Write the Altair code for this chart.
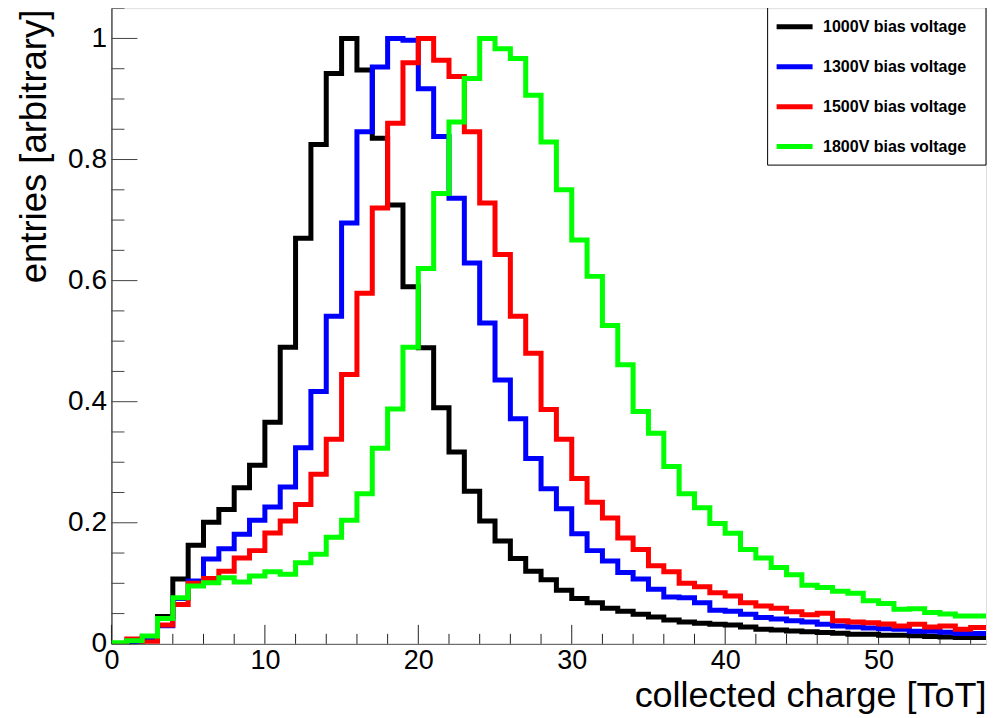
import altair as alt
import pandas as pd

# ---------------- data ----------------
x_max = 57
series_names = ["1000V bias voltage", "1300V bias voltage",
                "1500V bias voltage", "1800V bias voltage"]
series_colors = ["#000000", "#0000ff", "#ff0000", "#00ff00"]

v1000 = [0.0, 0.003, 0.01, 0.045, 0.107, 0.163, 0.201, 0.222, 0.258, 0.295,
         0.366, 0.49, 0.67, 0.825, 0.942, 1.0, 0.948, 0.835, 0.725, 0.59,
         0.489, 0.39, 0.317, 0.252, 0.203, 0.17, 0.141, 0.12, 0.106, 0.0885,
         0.075, 0.068, 0.059, 0.054, 0.049, 0.0445, 0.0395, 0.036, 0.034, 0.0325,
         0.031, 0.028, 0.024, 0.023, 0.0214, 0.020, 0.0187, 0.0176, 0.016, 0.016,
         0.0143, 0.0143, 0.0132, 0.012, 0.0115, 0.0104, 0.0104]
v1300 = [0.0, 0.003, 0.006, 0.03, 0.075, 0.104, 0.14, 0.157, 0.181, 0.204,
         0.226, 0.259, 0.324, 0.417, 0.541, 0.695, 0.846, 0.953, 1.0, 0.997,
         0.917, 0.838, 0.736, 0.629, 0.53, 0.436, 0.372, 0.306, 0.256, 0.223,
         0.182, 0.154, 0.137, 0.118, 0.107, 0.09, 0.0775, 0.076, 0.068, 0.0555,
         0.054, 0.049, 0.0435, 0.041, 0.038, 0.036, 0.0325, 0.0297, 0.028, 0.026,
         0.025, 0.024, 0.021, 0.021, 0.019, 0.017, 0.017]
v1500 = [0.0, 0.008, 0.003, 0.031, 0.065, 0.1, 0.108, 0.12, 0.142, 0.154,
         0.183, 0.203, 0.23, 0.28, 0.338, 0.445, 0.579, 0.72, 0.86, 0.96,
         1.0, 0.964, 0.937, 0.846, 0.728, 0.643, 0.541, 0.48, 0.387, 0.338,
         0.273, 0.234, 0.208, 0.175, 0.156, 0.129, 0.119, 0.1, 0.0945, 0.0846,
         0.079, 0.068, 0.0627, 0.059, 0.053, 0.048, 0.0506, 0.038, 0.036, 0.035,
         0.033, 0.0297, 0.0325, 0.028, 0.0297, 0.024, 0.027]
v1800 = [0.002, 0.005, 0.013, 0.042, 0.076, 0.0956, 0.101, 0.109, 0.102, 0.112,
         0.119, 0.115, 0.134, 0.148, 0.176, 0.204, 0.248, 0.323, 0.388, 0.49,
         0.62, 0.744, 0.862, 0.934, 1.0, 0.983, 0.967, 0.906, 0.829, 0.75,
         0.667, 0.607, 0.526, 0.461, 0.384, 0.348, 0.293, 0.248, 0.225, 0.199,
         0.1825, 0.156, 0.142, 0.126, 0.114, 0.097, 0.093, 0.087, 0.0836, 0.071,
         0.0665, 0.057, 0.058, 0.0516, 0.0495, 0.046, 0.046]

x_major = [0, 10, 20, 30, 40, 50]
x_minor = [2, 4, 6, 8, 12, 14, 16, 18, 22, 24, 26, 28, 32, 34, 36, 38,
           42, 44, 46, 48, 52, 54, 56]
y_major = [0, 0.2, 0.4, 0.6, 0.8, 1.0]
y_minor = [0.05, 0.1, 0.15, 0.25, 0.3, 0.35, 0.45, 0.5, 0.55, 0.65, 0.7,
           0.75, 0.85, 0.9, 0.95, 1.05]

# ---------------- build tables ----------------
rows = []
for name, vals in zip(series_names, [v1000, v1300, v1500, v1800]):
    for i, v in enumerate(vals):
        rows.append({"series": name, "x": i, "y": v})
    rows.append({"series": name, "x": x_max, "y": vals[-1]})
hist = pd.DataFrame(rows)

W, H = 875, 636
FONT = "Liberation Sans"

xscale = alt.Scale(domain=[0, x_max], nice=False, zero=False)
yscale = alt.Scale(domain=[0, 1.05], nice=False, zero=False)

color_enc = alt.Color(
    "series:N",
    title=None,
    scale=alt.Scale(domain=series_names, range=series_colors),
    legend=alt.Legend(
        orient="none", legendX=663, legendY=-2, title=None,
        symbolType="stroke", symbolSize=1296, symbolStrokeWidth=5,
        labelFont=FONT, labelFontSize=16, labelFontWeight="bold",
        labelColor="black", labelOffset=8, rowPadding=9, padding=0,
        labelLimit=400,
    ),
)

x_axis = alt.Axis(
    values=x_major, format="d", ticks=False, grid=False,
    labelFont=FONT, labelFontSize=27, labelColor="black", labelPadding=4,
    labelFlush=False, domainColor="#555555",
    title="collected charge [ToT]", titleFont=FONT, titleFontSize=36,
    titleFontWeight="normal", titleColor="black", titleAnchor="end",
    titleAlign="right", titleBaseline="alphabetic", titleX=W, titleY=63,
)
y_axis = alt.Axis(
    values=y_major, format="~g", ticks=False, grid=False,
    labelFont=FONT, labelFontSize=28, labelColor="black", labelPadding=5,
    labelFlush=False, domainColor="#000000",
    title="entries [arbitrary]", titleFont=FONT, titleFontSize=36.5,
    titleFontWeight="normal", titleColor="black", titleAngle=270,
    titleAlign="right", titleBaseline="alphabetic", titleX=-66, titleY=1,
)

X = alt.X("x:Q", scale=xscale, axis=x_axis)
Y = alt.Y("y:Q", scale=yscale, axis=y_axis)

# inner tick marks (ROOT style)
ytm = alt.Chart(pd.DataFrame({"y": y_major})).mark_rule(color="#444444", strokeWidth=1).encode(
    y=Y, x=alt.value(0), x2=alt.value(26))
ytn = alt.Chart(pd.DataFrame({"y": y_minor})).mark_rule(color="#444444", strokeWidth=1).encode(
    y=Y, x=alt.value(0), x2=alt.value(13))
xtm = alt.Chart(pd.DataFrame({"x": x_major})).mark_rule(color="#222222", strokeWidth=1).encode(
    x=X, y=alt.value(H), y2=alt.value(H - 19))
xtn = alt.Chart(pd.DataFrame({"x": x_minor})).mark_rule(color="#222222", strokeWidth=1).encode(
    x=X, y=alt.value(H), y2=alt.value(H - 10))

layers = [ytm, ytn, xtm, xtn]
for name in series_names:
    lyr = alt.Chart(hist).transform_filter(
        alt.datum.series == name
    ).mark_line(
        interpolate="step-after", strokeWidth=5, strokeJoin="miter",
        strokeCap="butt", clip=True,
    ).encode(x=X, y=Y, color=color_enc)
    layers.append(lyr)

legend_box = alt.Chart(pd.DataFrame({"k": [0]})).mark_rect(
    fill="white", fillOpacity=0, stroke="black", strokeWidth=1
).encode(x=alt.value(656.5), x2=alt.value(W), y=alt.value(-1), y2=alt.value(157))
layers.append(legend_box)

chart = alt.layer(*layers).properties(
    width=W, height=H,
    autosize=alt.AutoSizeParams(type="none"),
    padding={"left": 103.5, "top": 0, "right": 12, "bottom": 72},
).configure_view(stroke="#888888", strokeWidth=1).configure(background="white")

chart.save("out.html", embed_options={"renderer": "svg", "actions": False})
